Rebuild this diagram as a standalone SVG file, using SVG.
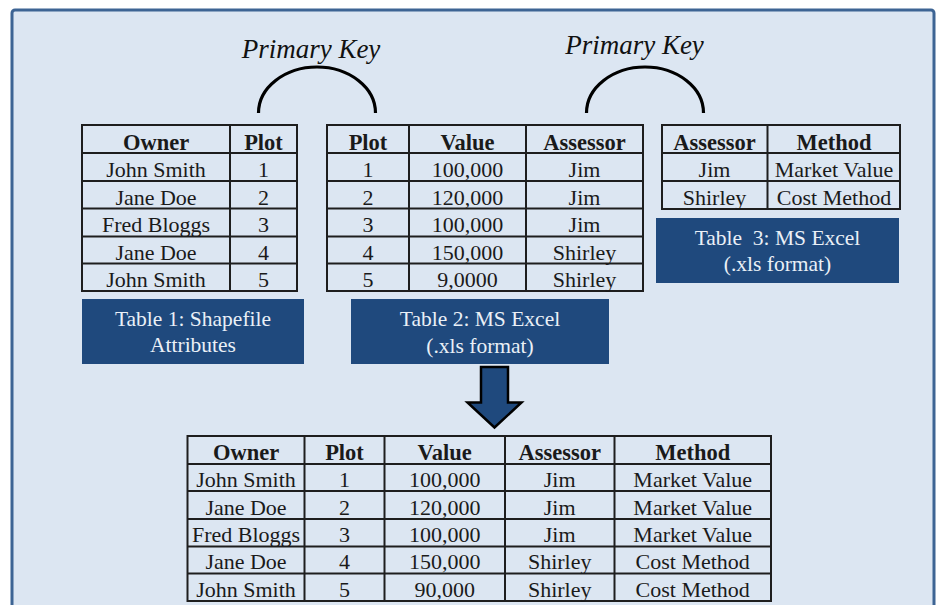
<svg xmlns="http://www.w3.org/2000/svg" width="939" height="605" viewBox="0 0 939 605">
  <style>
    .frame { fill: #dce6f2; stroke: #3d6494; stroke-width: 3; }
    .grid { fill: none; stroke: #1e1e1e; stroke-width: 2; }
    .cell { font-family: "Liberation Serif", "DejaVu Serif", serif; font-size: 22px; fill: #1a1a1a; text-anchor: middle; }
    .head { font-weight: bold; font-size: 22.5px; }
    .label-box { fill: #1f497d; }
    .label { font-family: "Liberation Serif", "DejaVu Serif", serif; font-size: 21.5px; fill: #eaf0f7; text-anchor: middle; white-space: pre; }
    .key { font-family: "Liberation Serif", "DejaVu Serif", serif; font-style: italic; font-size: 27px; fill: #111; text-anchor: middle; }
    .arc { fill: none; stroke: #000; stroke-width: 3.2; }
    .arrow { fill: #1f497d; stroke: #000; stroke-width: 2.5; stroke-linejoin: miter; }
  </style>

  <!-- background panel -->
  <rect class="frame" x="12" y="10" width="922" height="610" rx="3"/>

  <!-- Table 1: owner / plot -->
  <g id="table1">
    <rect class="grid" x="82" y="125" width="215" height="166"/>
    <path class="grid" d="M230,125V291 M82,153H297 M82,181H297 M82,208.5H297 M82,236.5H297 M82,263.5H297"/>
    <text class="cell head" x="156" y="150">Owner</text>
    <text class="cell head" x="263.5" y="150">Plot</text>
    <text class="cell" x="156" y="177">John Smith</text>
    <text class="cell" x="263.5" y="177">1</text>
    <text class="cell" x="156" y="204.5">Jane Doe</text>
    <text class="cell" x="263.5" y="204.5">2</text>
    <text class="cell" x="156" y="232">Fred Bloggs</text>
    <text class="cell" x="263.5" y="232">3</text>
    <text class="cell" x="156" y="259.5">Jane Doe</text>
    <text class="cell" x="263.5" y="259.5">4</text>
    <text class="cell" x="156" y="287">John Smith</text>
    <text class="cell" x="263.5" y="287">5</text>
  </g>

  <!-- Table 2: plot / value / assessor -->
  <g id="table2">
    <rect class="grid" x="327" y="125" width="316" height="166"/>
    <path class="grid" d="M409,125V291 M526,125V291 M327,153H643 M327,181H643 M327,208.5H643 M327,236.5H643 M327,263.5H643"/>
    <text class="cell head" x="368" y="150">Plot</text>
    <text class="cell head" x="467.5" y="150">Value</text>
    <text class="cell head" x="584.5" y="150">Assessor</text>
    <text class="cell" x="368" y="177">1</text>
    <text class="cell" x="467.5" y="177">100,000</text>
    <text class="cell" x="584.5" y="177">Jim</text>
    <text class="cell" x="368" y="204.5">2</text>
    <text class="cell" x="467.5" y="204.5">120,000</text>
    <text class="cell" x="584.5" y="204.5">Jim</text>
    <text class="cell" x="368" y="232">3</text>
    <text class="cell" x="467.5" y="232">100,000</text>
    <text class="cell" x="584.5" y="232">Jim</text>
    <text class="cell" x="368" y="259.5">4</text>
    <text class="cell" x="467.5" y="259.5">150,000</text>
    <text class="cell" x="584.5" y="259.5">Shirley</text>
    <text class="cell" x="368" y="287">5</text>
    <text class="cell" x="467.5" y="287">9,0000</text>
    <text class="cell" x="584.5" y="287">Shirley</text>
  </g>

  <!-- Table 3: assessor / method -->
  <g id="table3">
    <rect class="grid" x="662" y="125" width="238" height="84"/>
    <path class="grid" d="M767.5,125V209 M662,153H900 M662,181H900"/>
    <text class="cell head" x="714.5" y="150">Assessor</text>
    <text class="cell head" x="834" y="150">Method</text>
    <text class="cell" x="714.5" y="177">Jim</text>
    <text class="cell" x="834" y="177">Market Value</text>
    <text class="cell" x="714.5" y="204.5">Shirley</text>
    <text class="cell" x="834" y="204.5">Cost Method</text>
  </g>

  <!-- captions -->
  <g id="label1">
    <rect class="label-box" x="82" y="299" width="222" height="65"/>
    <text class="label" x="193" y="326">Table 1: Shapefile</text>
    <text class="label" x="193" y="352">Attributes</text>
  </g>
  <g id="label2">
    <rect class="label-box" x="351" y="299" width="258" height="65"/>
    <text class="label" x="480" y="326">Table 2: MS Excel</text>
    <text class="label" x="480" y="353">(.xls format)</text>
  </g>
  <g id="label3">
    <rect class="label-box" x="656" y="218" width="243" height="65"/>
    <text class="label" x="777.5" y="245">Table  3: MS Excel</text>
    <text class="label" x="777.5" y="271">(.xls format)</text>
  </g>

  <!-- key captions -->
  <g id="key1">
    <text class="key" x="311" y="58">Primary Key</text>
  </g>
  <g id="key2">
    <text class="key" x="634.5" y="54">Primary Key</text>
  </g>

  <!-- joined result table -->
  <g id="result">
    <rect class="grid" x="187.5" y="436" width="583.5" height="165"/>
    <path class="grid" d="M304.5,436V601 M384.5,436V601 M505,436V601 M614.5,436V601 M187.5,464H771 M187.5,491H771 M187.5,519H771 M187.5,546.5H771 M187.5,573.5H771"/>
    <text class="cell head" x="246" y="459.5">Owner</text>
    <text class="cell head" x="344.5" y="459.5">Plot</text>
    <text class="cell head" x="444.7" y="459.5">Value</text>
    <text class="cell head" x="559.7" y="459.5">Assessor</text>
    <text class="cell head" x="692.7" y="459.5">Method</text>

    <text class="cell" x="246" y="487">John Smith</text>
    <text class="cell" x="344.5" y="487">1</text>
    <text class="cell" x="444.7" y="487">100,000</text>
    <text class="cell" x="559.7" y="487">Jim</text>
    <text class="cell" x="692.7" y="487">Market Value</text>

    <text class="cell" x="246" y="514.5">Jane Doe</text>
    <text class="cell" x="344.5" y="514.5">2</text>
    <text class="cell" x="444.7" y="514.5">120,000</text>
    <text class="cell" x="559.7" y="514.5">Jim</text>
    <text class="cell" x="692.7" y="514.5">Market Value</text>

    <text class="cell" x="246" y="542">Fred Bloggs</text>
    <text class="cell" x="344.5" y="542">3</text>
    <text class="cell" x="444.7" y="542">100,000</text>
    <text class="cell" x="559.7" y="542">Jim</text>
    <text class="cell" x="692.7" y="542">Market Value</text>

    <text class="cell" x="246" y="569">Jane Doe</text>
    <text class="cell" x="344.5" y="569">4</text>
    <text class="cell" x="444.7" y="569">150,000</text>
    <text class="cell" x="559.7" y="569">Shirley</text>
    <text class="cell" x="692.7" y="569">Cost Method</text>

    <text class="cell" x="246" y="596.5">John Smith</text>
    <text class="cell" x="344.5" y="596.5">5</text>
    <text class="cell" x="444.7" y="596.5">90,000</text>
    <text class="cell" x="559.7" y="596.5">Shirley</text>
    <text class="cell" x="692.7" y="596.5">Cost Method</text>
  </g>

  <!-- connectors: key arcs and the join arrow -->
  <g id="connectors">
    <path class="arc" d="M258.5,113 A58.5,46 0 0 1 375.5,113"/>
    <path class="arc" d="M586.5,113 A58.5,46 0 0 1 703.5,113"/>
    <path class="arrow" d="M481,367 H508 V402.5 H521.5 L494.5,427.5 L467.5,402.5 H481 Z"/>
  </g>
</svg>
